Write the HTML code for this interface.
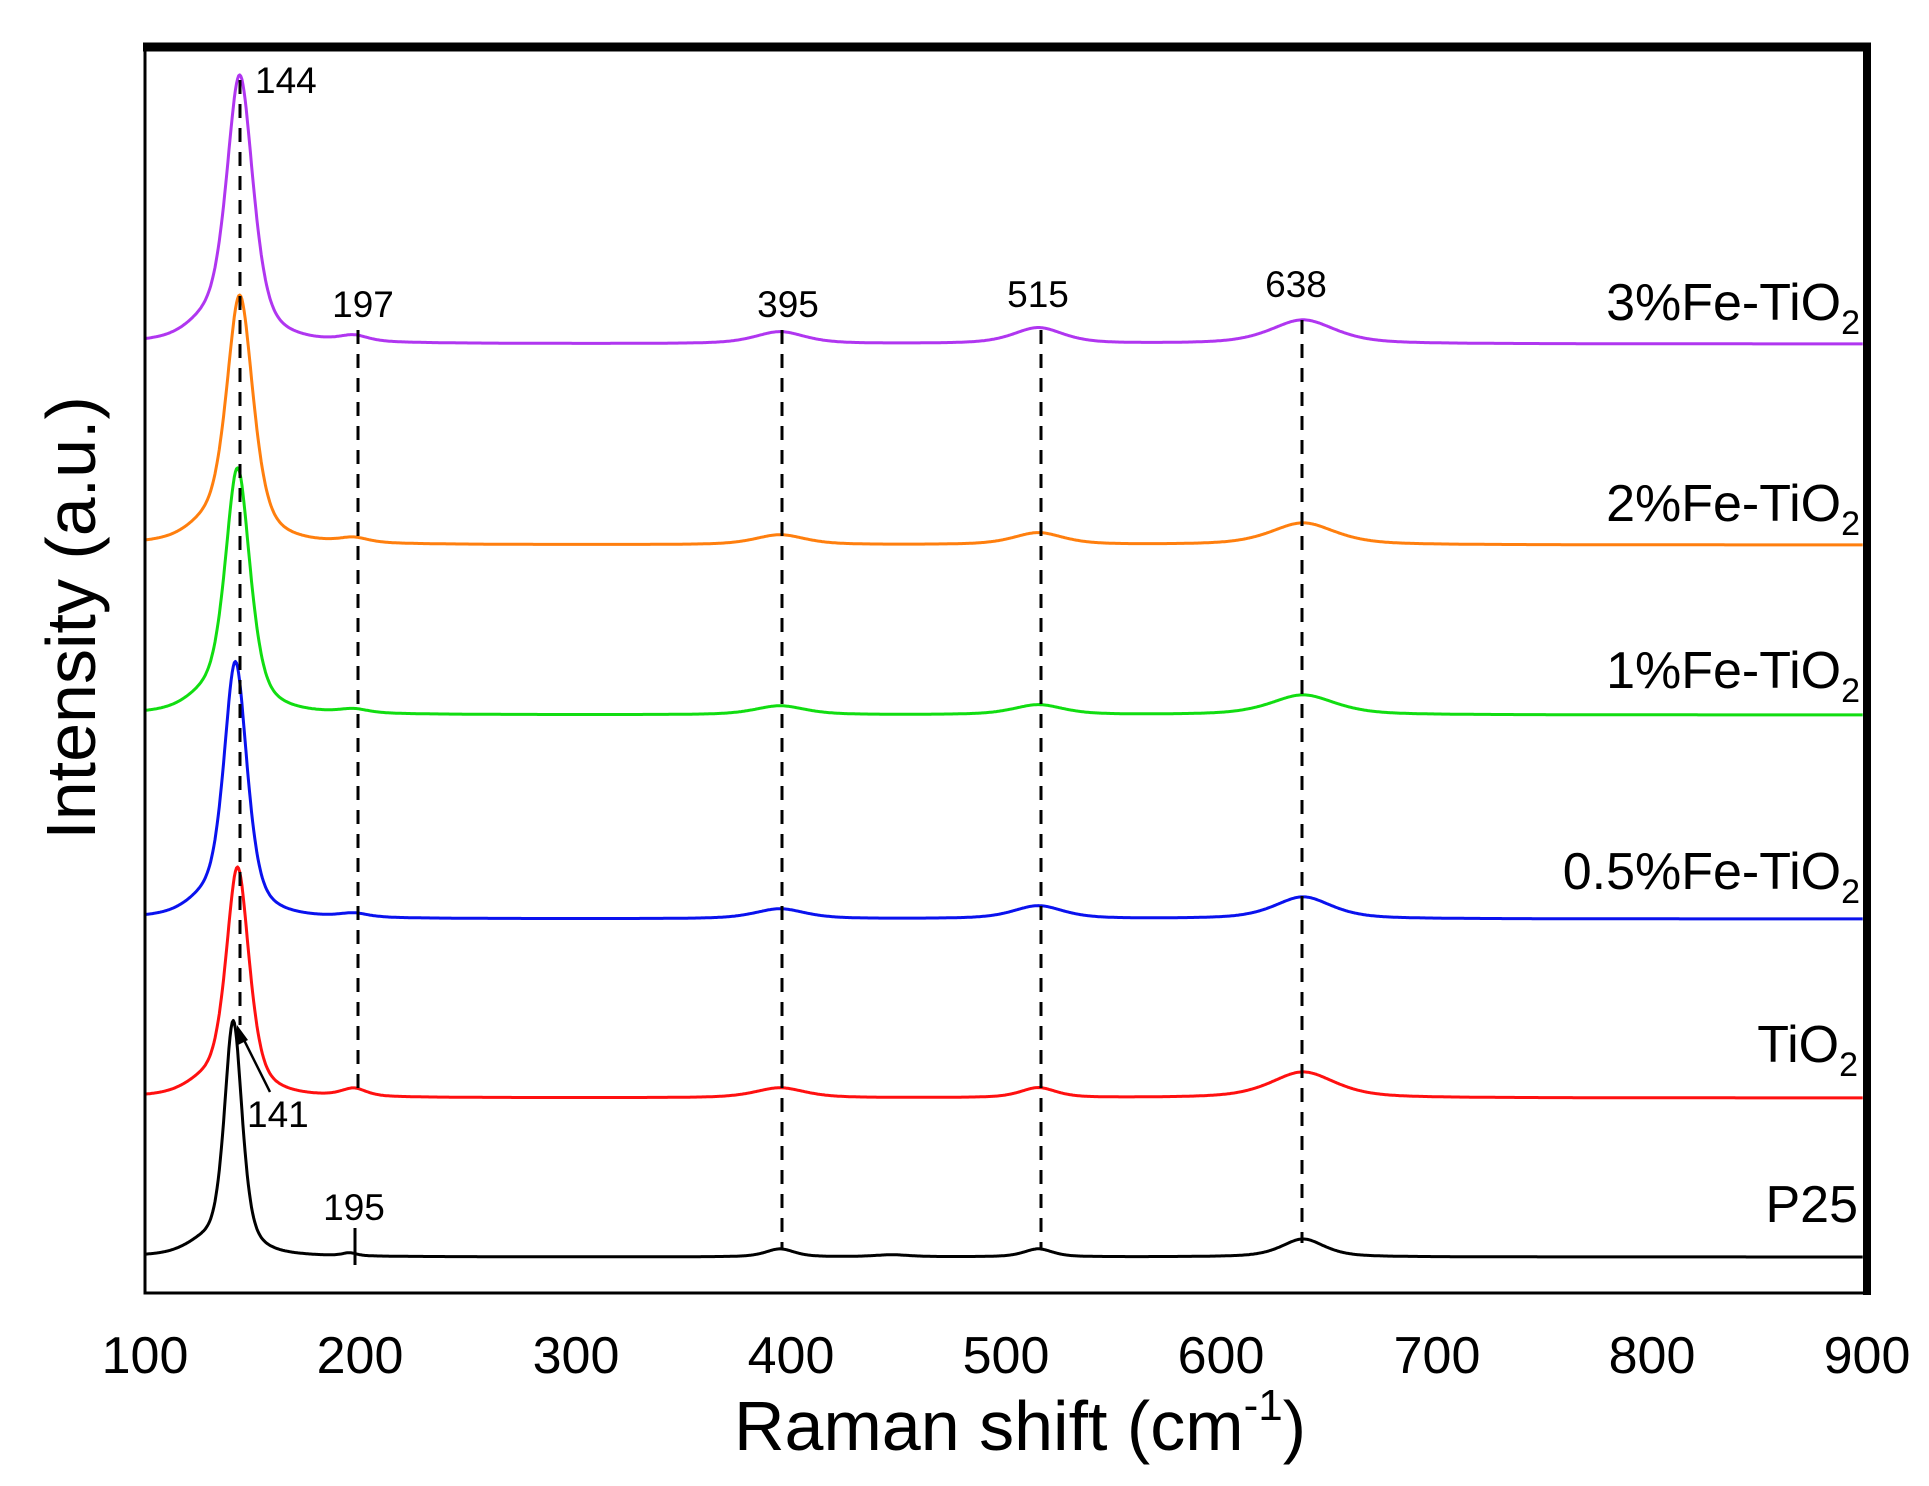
<!DOCTYPE html>
<html><head><meta charset="utf-8"><style>
html,body{margin:0;padding:0;background:#fff;}
svg{display:block;font-family:"Liberation Sans",Arial,sans-serif;}
</style></head><body>
<svg id="s" width="1929" height="1486" viewBox="0 0 1929 1486" xmlns="http://www.w3.org/2000/svg">
<rect width="1929" height="1486" fill="#fff"/>
<g id="curves" fill="none" stroke-width="3" stroke-linejoin="round"></g>
<g stroke="#000" stroke-width="3" stroke-dasharray="14,10" fill="none">
<line x1="240" y1="80" x2="240" y2="1025"/>
<line x1="358" y1="330" x2="358" y2="1097"/>
<line x1="782" y1="330" x2="782" y2="1250"/>
<line x1="1041" y1="330" x2="1041" y2="1250"/>
<line x1="1302" y1="320" x2="1302" y2="1243"/>
</g>
<line x1="355" y1="1228" x2="355" y2="1265" stroke="#000" stroke-width="3"/>
<line x1="270" y1="1092" x2="240" y2="1032" stroke="#000" stroke-width="2.5"/>
<polygon points="237,1025 236,1046 248,1040" fill="#000"/>
<rect x="145" y="47" width="1722" height="1246" fill="none" stroke="#000" stroke-width="3"/>
<line x1="143" y1="47" x2="1871" y2="47" stroke="#000" stroke-width="9"/>
<line x1="1867" y1="43" x2="1867" y2="1295" stroke="#000" stroke-width="8"/>
<g font-size="37" fill="#000">
<text x="255" y="93">144</text>
<text x="363" y="317" text-anchor="middle">197</text>
<text x="788" y="317" text-anchor="middle">395</text>
<text x="1038" y="307" text-anchor="middle">515</text>
<text x="1296" y="297" text-anchor="middle">638</text>
<text x="354" y="1220" text-anchor="middle">195</text>
<text x="247" y="1127">141</text>
</g>
<g font-size="52" fill="#000" text-anchor="end">
<text x="1860" y="320">3%Fe-TiO<tspan font-size="34" dy="14">2</tspan></text>
<text x="1860" y="521">2%Fe-TiO<tspan font-size="34" dy="14">2</tspan></text>
<text x="1860" y="688">1%Fe-TiO<tspan font-size="34" dy="14">2</tspan></text>
<text x="1860" y="889">0.5%Fe-TiO<tspan font-size="34" dy="14">2</tspan></text>
<text x="1858" y="1062">TiO<tspan font-size="34" dy="14">2</tspan></text>
<text x="1858" y="1222">P25</text>
</g>
<g font-size="52" fill="#000" text-anchor="middle">
<text x="145" y="1373">100</text><text x="360" y="1373">200</text><text x="576" y="1373">300</text>
<text x="791" y="1373">400</text><text x="1006" y="1373">500</text><text x="1221" y="1373">600</text>
<text x="1437" y="1373">700</text><text x="1652" y="1373">800</text><text x="1867" y="1373">900</text>
</g>
<text x="1020" y="1450" font-size="70" text-anchor="middle">Raman shift (cm<tspan font-size="44" dy="-30">-1</tspan><tspan dy="30">)</tspan></text>
<text transform="translate(95,618) rotate(-90)" font-size="70" text-anchor="middle">Intensity (a.u.)</text>
</svg>
<script>
(function(){
var X=function(v){return 145+(v-100)*2.1525;};
var series=[
 {c:"#b036f0",b:344,p:77,pc:144,w:7.5,s:[[197,6,8],[395,12,14],[515,16,14],[638,24,18]]},
 {c:"#ff7f0e",b:545,p:297,pc:144,w:7.5,s:[[197,5,8],[395,10,14],[515,12,14],[638,22,18]]},
 {c:"#11dd11",b:715,p:470,pc:143,w:7,s:[[197,4,8],[395,9,14],[515,10,14],[638,20,18]]},
 {c:"#0a12ee",b:919,p:664,pc:142,w:6.5,s:[[197,4,8],[395,10,14],[515,13,14],[638,22,16]]},
 {c:"#ff1010",b:1098,p:869,pc:143,w:6.5,s:[[197,8,7],[395,10,14],[515,10,10],[638,26,18]]},
 {c:"#000",b:1257,p:1023,pc:141,w:5,s:[[195,3,4],[395,8,8],[447,2,10],[515,8,8],[638,18,12]]}
];
function pv(t){return 0.6/(1+t*t)+0.4*Math.exp(-0.693*t*t);}
var g=document.getElementById("curves");
series.forEach(function(o){
 var A=o.b-o.p, d="";
 for(var v=100;v<=898;v+=0.5){
  var t=(v-o.pc)/o.w, y=A*pv(t);
  var sh=(v-126)/10; y+= A*0.04*pv(sh);
  o.s.forEach(function(q){var u=(v-q[0])/q[2]; y+=q[1]*pv(u);});
  d+=(v==100?"M":"L")+X(v).toFixed(1)+","+(o.b-y).toFixed(1);
 }
 var p=document.createElementNS("http://www.w3.org/2000/svg","path");
 p.setAttribute("d",d);p.setAttribute("stroke",o.c);g.appendChild(p);
});
})();
</script>
</body></html>
